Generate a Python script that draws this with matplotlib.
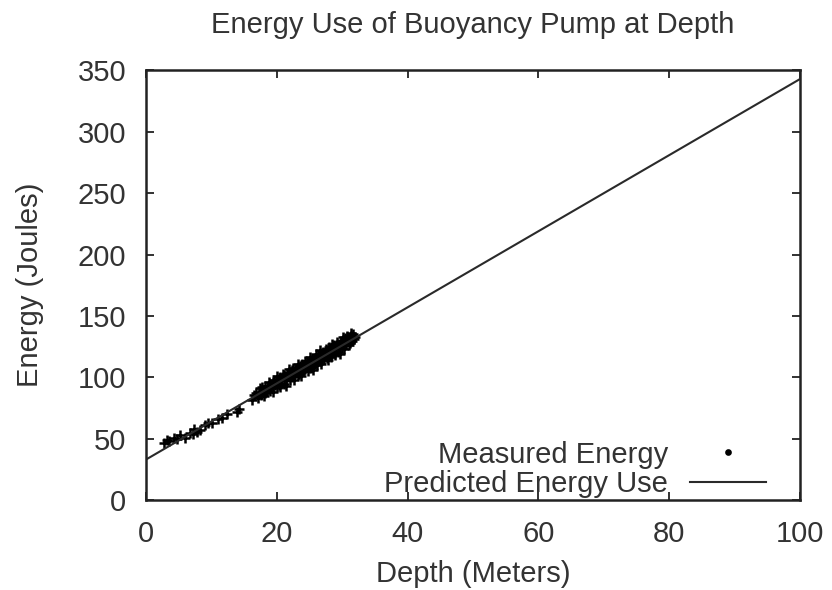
import matplotlib
matplotlib.use("Agg")
import matplotlib.pyplot as plt

plt.rcParams["font.family"] = ["Liberation Sans", "DejaVu Sans"]

# measured pump energy per dive depth
depth_m = [
    2.8, 3.2, 3.6, 4.4, 4.8, 5.2, 6.0, 6.8, 7.2, 7.4, 7.9, 8.3, 9.1, 9.6,
    10.2, 11.0, 11.6, 12.4, 14.0, 14.3,
    16.2, 16.8, 17.1, 17.4, 17.6, 17.9, 18.1, 18.3, 18.5, 18.8, 19.0, 19.2,
    19.4, 19.6, 19.8, 20.0, 20.1, 20.3, 20.5, 20.6, 20.8, 21.0, 21.1, 21.3,
    21.4, 21.6, 21.8, 21.9, 22.1, 22.2, 22.4, 22.5, 22.7, 22.9, 23.0, 23.2,
    23.3, 23.5, 23.6, 23.8, 24.0, 24.1, 24.3, 24.4, 24.6, 24.8, 24.9, 25.1,
    25.2, 25.4, 25.5, 25.7, 25.9, 26.0, 26.2, 26.3, 26.5, 26.7, 26.8, 27.0,
    27.1, 27.3, 27.5, 27.6, 27.8, 27.9, 28.1, 28.3, 28.4, 28.6, 28.7, 28.9,
    29.1, 29.2, 29.4, 29.5, 29.7, 29.9, 30.0, 30.2, 30.3, 30.5, 30.6, 30.8,
    31.0, 31.1, 31.3, 31.5, 31.7,
    16.5, 17.3, 17.8, 18.2, 18.7, 19.1, 19.5, 19.9, 20.2, 20.7, 21.2, 21.5,
    21.7, 22.0, 22.3, 22.6, 22.8, 23.1, 23.4, 23.7, 23.9, 24.2, 24.5, 24.7,
    25.0, 25.3, 25.6, 25.8, 26.1, 26.4, 26.6, 26.9, 27.2, 27.4, 27.7, 28.0,
    28.2, 28.5, 28.8, 29.0, 29.3, 29.6, 29.8, 30.1, 30.4, 30.7, 30.9, 31.2,
    31.4, 31.6, 31.8, 32.0,
]
energy_j = [
    47, 49, 48, 51, 50, 53, 51, 55, 54, 58, 56, 57, 61, 63,
    63, 66, 67, 70, 72, 74,
    82, 87, 83, 91, 86, 90, 85, 93, 89, 96, 89, 95,
    88, 98, 94, 92, 101, 94, 100, 92, 99, 103, 95, 101,
    93, 104, 100, 107, 98, 104, 100, 108, 98, 105, 108, 102,
    111, 105, 109, 101, 109, 105, 113, 107, 113, 105, 111, 117,
    108, 115, 106, 115, 112, 119, 110, 118, 113, 122, 111, 118,
    121, 115, 123, 118, 122, 114, 122, 117, 127, 120, 126, 118,
    124, 129, 121, 127, 119, 128, 124, 133, 123, 132, 127, 134,
    126, 132, 136, 130, 133,
    86, 88, 92, 87, 93, 91, 96, 97, 98, 95, 102, 98,
    103, 102, 106, 101, 106, 106, 103, 108, 111, 106, 110, 111,
    108, 113, 110, 116, 112, 116, 117, 114, 119, 120, 116, 125,
    119, 123, 124, 121, 126, 124, 130, 126, 129, 130, 131, 128,
    134, 135, 131, 133,
]

# linear model of predicted energy use
pred_depth = [0, 100]
pred_energy = [33, 343]

TXT = "#333333"
FS = 21

fig = plt.figure(figsize=(8.32, 5.90), dpi=100)
ax = fig.add_axes([0.175, 0.152, 0.787, 0.729])

ax.plot(depth_m, energy_j, linestyle="none", marker="+", markersize=7,
        markeredgewidth=1.8, color="black", label="Measured Energy")
ax.plot(pred_depth, pred_energy, color="#2a2a2a", linewidth=1.5,
        label="Predicted Energy Use")

ax.set_xlim(0, 100)
ax.set_ylim(0, 350)
ax.set_xticks(range(0, 101, 20))
ax.set_yticks(range(0, 351, 50))

for side in ax.spines.values():
    side.set_linewidth(1.8)
    side.set_color("#222222")
ax.tick_params(direction="in", length=6, width=1.3, colors="#222222",
               labelsize=FS, top=True, right=True)
ax.tick_params(axis="y", pad=14)
ax.tick_params(axis="x", pad=14)
for lbl in ax.get_xticklabels() + ax.get_yticklabels():
    lbl.set_color(TXT)

ax.set_title("Energy Use of Buoyancy Pump at Depth", fontsize=FS,
             color=TXT, pad=27)
ax.set_xlabel("Depth (Meters)", fontsize=FS, color=TXT, labelpad=9)
ax.set_ylabel("Energy (Joules)", fontsize=FS, color=TXT, labelpad=24)

leg = ax.legend(loc="lower right", frameon=False, markerfirst=False,
                fontsize=FS, handlelength=2.6, handletextpad=0.75,
                labelspacing=0.05, borderaxespad=0.0,
                bbox_to_anchor=(0.965, -0.022))
for t in leg.get_texts():
    t.set_color(TXT)
# the key for the measured points is a small dot
leg.legend_handles[0].set_marker("o")
leg.legend_handles[0].set_markersize(3)

fig.savefig("out.png", dpi=100)
